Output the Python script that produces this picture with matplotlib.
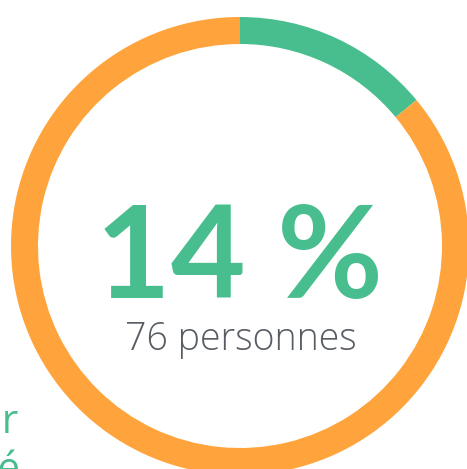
import matplotlib
matplotlib.use("Agg")
import matplotlib.pyplot as plt

# data
share = [14, 86]
seg_colors = ["#48be8e", "#ffa43d"]
big_label = "14 %"
sub_label = "76 personnes"
side_words = ["pour", "concerné"]

W, H = 467, 469
fig = plt.figure(figsize=(W / 100, H / 100), dpi=100)
ax = fig.add_axes([0, 0, 1, 1])

cx, cy = 240, H - 246
ax.pie(share, colors=seg_colors, startangle=90, counterclock=False,
       radius=229, center=(cx, cy),
       wedgeprops=dict(width=27, linewidth=0))
ax.set_xlim(0, W)
ax.set_ylim(0, H)
ax.set_aspect("auto")
ax.axis("off")

ax.text(240, H - 298, big_label, ha="center", va="baseline",
        fontsize=93, fontfamily="Lato", fontweight="bold", color="#48be8e")
ax.text(241, H - 350, sub_label, ha="center", va="baseline",
        fontsize=27, fontfamily="Open Sans", fontweight="light", color="#585d64")

# clipped words on the left border
ax.text(19, H - 433, side_words[0], ha="right", va="baseline",
        fontsize=29, fontfamily="Open Sans", color="#48be8e")
ax.text(21, H - 481, side_words[1], ha="right", va="baseline",
        fontsize=29, fontfamily="Open Sans", color="#48be8e")

fig.savefig("out.png", dpi=100)
